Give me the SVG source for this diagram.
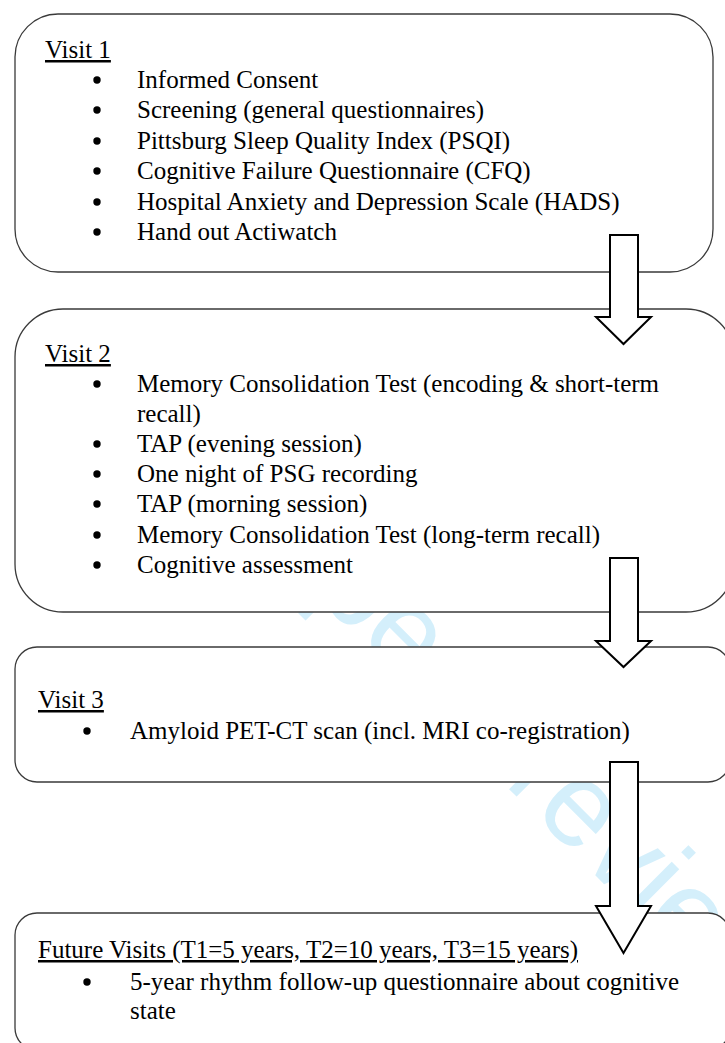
<svg xmlns="http://www.w3.org/2000/svg" width="725" height="1043" viewBox="0 0 725 1043">
  <style>
    .box { fill: #ffffff; stroke: #3a3a3a; stroke-width: 1.3; }
    .t { font-family: "Liberation Serif", "Times New Roman", serif; font-size: 25px; fill: #000; }
    .h { text-decoration: underline; }
    .b { fill: #000; }
    .arrow { fill: #ffffff; stroke: #000; stroke-width: 2; stroke-linejoin: miter; }
    .wm { font-family: "Liberation Sans", Arial, sans-serif; font-size: 120px; fill: #d4effb; }
  </style>
  <rect width="725" height="1043" fill="#ffffff"/>
  <g id="watermark" transform="translate(577,813) rotate(45)">
    <text class="wm" x="-560" y="31">For peer review only</text>
  </g>
  <g id="visit1">
    <rect class="box" x="15" y="14" width="698" height="258" rx="43" ry="43"/>
    <text class="t h" x="45" y="58">Visit 1</text>
    <circle class="b" cx="97" cy="80" r="3.7"/>
    <text class="t" x="137" y="88">Informed Consent</text>
    <circle class="b" cx="97" cy="110" r="3.7"/>
    <text class="t" x="137" y="118">Screening (general questionnaires)</text>
    <circle class="b" cx="97" cy="141" r="3.7"/>
    <text class="t" x="137" y="149">Pittsburg Sleep Quality Index (PSQI)</text>
    <circle class="b" cx="97" cy="171" r="3.7"/>
    <text class="t" x="137" y="179">Cognitive Failure Questionnaire (CFQ)</text>
    <circle class="b" cx="97" cy="202" r="3.7"/>
    <text class="t" x="137" y="210">Hospital Anxiety and Depression Scale (HADS)</text>
    <circle class="b" cx="97" cy="232" r="3.7"/>
    <text class="t" x="137" y="240">Hand out Actiwatch</text>
  </g>
  <g id="visit2">
    <rect class="box" x="15" y="309" width="719" height="303" rx="48" ry="48"/>
    <text class="t h" x="45" y="362">Visit 2</text>
    <circle class="b" cx="97" cy="384" r="3.7"/>
    <text class="t" x="137" y="392">Memory Consolidation Test (encoding &amp; short-term</text>
    <text class="t" x="137" y="422">recall)</text>
    <circle class="b" cx="97" cy="444" r="3.7"/>
    <text class="t" x="137" y="452">TAP (evening session)</text>
    <circle class="b" cx="97" cy="474" r="3.7"/>
    <text class="t" x="137" y="482">One night of PSG recording</text>
    <circle class="b" cx="97" cy="504" r="3.7"/>
    <text class="t" x="137" y="512">TAP (morning session)</text>
    <circle class="b" cx="97" cy="535" r="3.7"/>
    <text class="t" x="137" y="543">Memory Consolidation Test (long-term recall)</text>
    <circle class="b" cx="97" cy="565" r="3.7"/>
    <text class="t" x="137" y="573">Cognitive assessment</text>
  </g>
  <g id="visit3">
    <rect class="box" x="15" y="647" width="715" height="135" rx="22" ry="22"/>
    <text class="t h" x="38" y="708">Visit 3</text>
    <circle class="b" cx="87" cy="731" r="3.7"/>
    <text class="t" x="130" y="739">Amyloid PET-CT scan (incl. MRI co-registration)</text>
  </g>
  <g id="future">
    <rect class="box" x="15" y="913" width="715" height="137" rx="22" ry="22"/>
    <text class="t h" x="38" y="958">Future Visits (T1=5 years, T2=10 years, T3=15 years)</text>
    <circle class="b" cx="87" cy="982" r="3.7"/>
    <text class="t" x="130" y="990">5-year rhythm follow-up questionnaire about cognitive</text>
    <text class="t" x="130" y="1019">state</text>
  </g>
  <g id="connectors">
    <polygon class="arrow" points="610,235 638,235 638,317 651,317 623.5,344 596,317 610,317"/>
    <polygon class="arrow" points="610,558 638,558 638,641 651,641 623.5,667 596,641 610,641"/>
    <polygon class="arrow" points="610,762 638,762 638,906 651,906 623.5,953 596,906 610,906"/>
  </g>
</svg>
